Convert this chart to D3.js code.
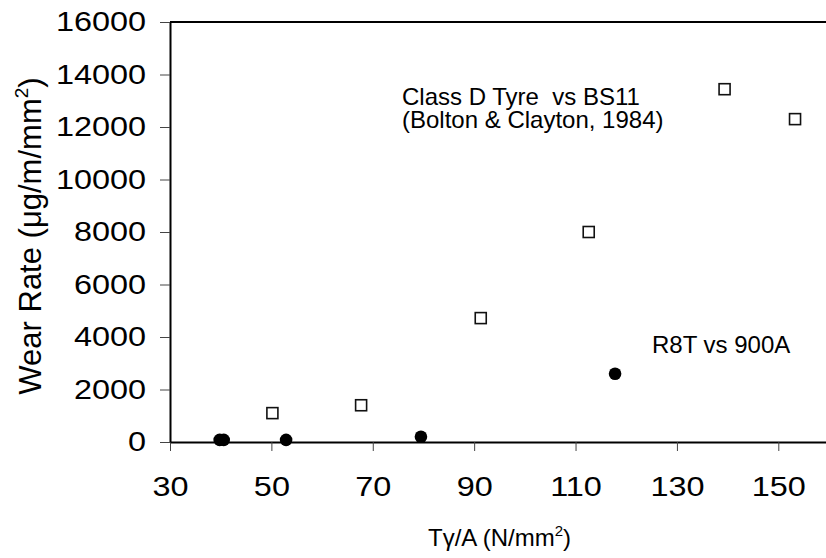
<!DOCTYPE html>
<html>
<head>
<meta charset="utf-8">
<script src="https://cdn.jsdelivr.net/npm/d3@7"></script>
<style>
  body { margin: 0; background: #fff; }
  text { font-family: Arial, 'Liberation Sans', sans-serif; fill: #000; }
  .tick line { stroke: #444; stroke-width: 1; }
  .axis .domain { stroke: #000; stroke-width: 2; }
</style>
</head>
<body>
<div id="chart"></div>
<script>
// Class D Tyre vs BS11 (Bolton & Clayton, 1984)
var tyreX = [50.2, 67.7, 91.3, 112.6, 139.4, 153.3];
var tyreY = [1100, 1400, 4720, 8000, 13440, 12300];

// R8T vs 900A
var r8tX = [39.8, 40.6, 52.9, 79.5, 117.8];
var r8tY = [80, 80, 80, 200, 2600];

var xTicks = [30, 50, 70, 90, 110, 130, 150];
var yTicks = [0, 2000, 4000, 6000, 8000, 10000, 12000, 14000, 16000];

var margin = { top: 22, left: 170, bottom: 116, right: -3 },
width = 826 - margin.left - margin.right,
height = 558 - margin.top - margin.bottom;

var svg = d3.select('#chart').append('svg')
.attr('width', 826)
.attr('height', 558)
.append('g')
.attr('transform', 'translate(' + margin.left + ', ' + margin.top + ')');

var x = d3.scaleLinear().domain([30, 160]).range([0, width]);
var y = d3.scaleLinear().domain([0, 16000]).range([height, 0]);

// stretch tick labels a bit, the original font is wider than Arial
function widen(sel) {
sel.selectAll('.tick text').each(function () {
    var w = this.getComputedTextLength();
    d3.select(this)
    .attr('textLength', w * 1.2)
    .attr('lengthAdjust', 'spacingAndGlyphs');
});
}

var xAxis = d3.axisBottom(x)
.tickValues(xTicks)
.tickSize(9)
.tickSizeOuter(0)
.tickPadding(26)
.tickFormat(d3.format('d'));

svg.append('g')
.attr('class', 'axis')
.attr('transform', 'translate(0,' + height + ')')
.call(xAxis)
.call(g => g.selectAll('.tick text').style('font-size', '27px'))
.call(widen);

var yAxis = d3.axisLeft(y)
.tickValues(yTicks)
.tickSize(10)
.tickSizeOuter(0)
.tickPadding(14)
.tickFormat(d3.format('d'));

svg.append('g')
.attr('class', 'axis')
.call(yAxis)
.call(g => g.selectAll('.tick text').style('font-size', '27px'))
.call(widen);

// top border of the plot area
svg.append('line')
.attr('x1', 0)
.attr('x2', width)
.attr('y1', y(16000))
.attr('y2', y(16000))
.attr('stroke', '#000')
.attr('stroke-width', 2);

// squares
var tyre = tyreX.map((d, i) => ({ x: d, y: tyreY[i] }));
var s = 11;
svg.selectAll('.sq')
.data(tyre)
.enter()
.append('rect')
.attr('class', 'sq')
.attr('x', d => x(d.x) - s / 2)
.attr('y', d => y(d.y) - s / 2)
.attr('width', s)
.attr('height', s)
.attr('fill', '#fff')
.attr('stroke', '#111')
.attr('stroke-width', 1.6);

// filled circles
var r8t = r8tX.map((d, i) => ({ x: d, y: r8tY[i] }));
svg.selectAll('.dot')
.data(r8t)
.enter()
.append('circle')
.attr('class', 'dot')
.attr('cx', d => x(d.x))
.attr('cy', d => y(d.y))
.attr('r', 6.3)
.attr('fill', '#000');

// annotations
svg.append('text')
.attr('x', 232)
.attr('y', 82.5)
.style('font-size', '24px')
.style('white-space', 'pre')
.text('Class D Tyre  vs BS11');

svg.append('text')
.attr('x', 232)
.attr('y', 106)
.style('font-size', '24px')
.text('(Bolton & Clayton, 1984)');

svg.append('text')
.attr('x', 482)
.attr('y', 331)
.style('font-size', '24px')
.text('R8T vs 900A');

// x axis title
var xt = svg.append('text')
.attr('x', width / 2)
.attr('y', 523.5)
.attr('text-anchor', 'middle')
.style('font-size', '24px');
xt.append('tspan').text('T\u03b3/A (N/mm');
xt.append('tspan').text('2').style('font-size', '15px').attr('dy', -10);
xt.append('tspan').text(')').attr('dy', 10);

// y axis title
var yt = svg.append('text')
.attr('transform', 'translate(' + (41 - margin.left) + ',' + (236 - margin.top) + ') rotate(-90)')
.attr('text-anchor', 'middle')
.style('font-size', '31px');
yt.append('tspan').text('Wear Rate (\u03bcg/m/mm');
yt.append('tspan').text('2').style('font-size', '19px').attr('dy', -13);
yt.append('tspan').text(')').attr('dy', 13);
</script>
</body>
</html>
